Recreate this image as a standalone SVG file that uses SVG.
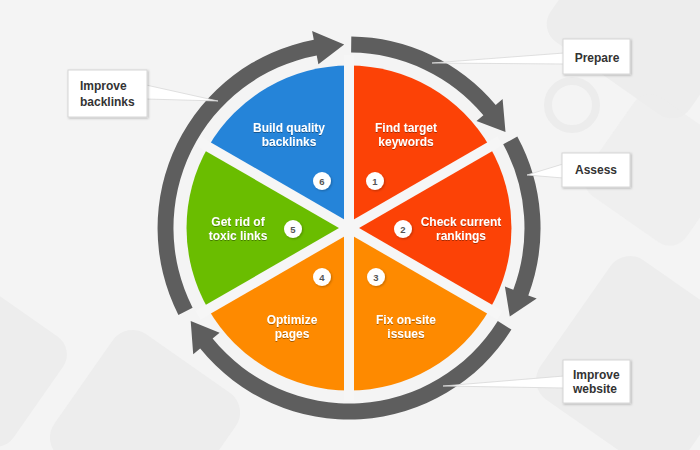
<svg xmlns="http://www.w3.org/2000/svg" width="700" height="450" viewBox="0 0 700 450">
<defs>
<style>
.bgs{fill:#ededed}
.arrow{fill:#5e5e5e}
.gap{stroke:#f6f6f6;stroke-width:10;fill:none}
.lbl{font-family:"Liberation Sans",Arial,sans-serif;font-weight:bold;font-size:12px;fill:#ffffff;text-anchor:middle}
.box{fill:#ffffff;stroke:#d6d6d6;stroke-width:1}
.btxt{font-family:"Liberation Sans",Arial,sans-serif;font-weight:bold;font-size:12px;fill:#333333}
.wedge{fill:#ffffff;stroke:#d8d8d8;stroke-width:0.8}
.num{fill:#ffffff}
.ntxt{font-family:"Liberation Sans",Arial,sans-serif;font-weight:bold;font-size:9.5px;fill:#555555;text-anchor:middle}
</style>
<filter id="ts" x="-10%" y="-20%" width="120%" height="150%">
<feDropShadow dx="0" dy="1" stdDeviation="0.6" flood-color="#000" flood-opacity="0.35"/>
</filter>
<filter id="sh" x="-20%" y="-20%" width="150%" height="150%">
<feDropShadow dx="1" dy="1" stdDeviation="1" flood-color="#000" flood-opacity="0.25"/>
</filter>
</defs>
<rect width="700" height="450" fill="#f4f4f4"/>
<g id="background">
<rect class="bgs" x="560" y="-40" width="170" height="130" rx="22" transform="rotate(35 645 25)"/>
<rect class="bgs" x="600" y="110" width="120" height="120" rx="20" transform="rotate(35 660 170)" opacity="0.7"/>
<circle cx="572" cy="105" r="24" fill="none" stroke="#ececec" stroke-width="8"/>
<rect class="bgs" x="560" y="280" width="170" height="170" rx="24" transform="rotate(35 645 365)"/>
<rect class="bgs" x="-80" y="300" width="130" height="130" rx="22" transform="rotate(35 -15 365)"/>
<rect class="bgs" x="70" y="350" width="150" height="150" rx="24" transform="rotate(35 145 425)"/>
</g>
<g id="pie">
<path id="slice1" d="M349,228 L349,65.5 A162.5,162.5 0 0 1 489.7,146.75 Z" fill="#fc4206"/>
<path id="slice2" d="M349,228 L489.7,146.75 A162.5,162.5 0 0 1 489.7,309.25 Z" fill="#fc4206"/>
<path id="slice3" d="M349,228 L489.7,309.25 A162.5,162.5 0 0 1 349,390.5 Z" fill="#fe8a00"/>
<path id="slice4" d="M349,228 L349,390.5 A162.5,162.5 0 0 1 208.3,309.25 Z" fill="#fe8a00"/>
<path id="slice5" d="M349,228 L208.3,309.25 A162.5,162.5 0 0 1 208.3,146.75 Z" fill="#6abd00"/>
<path id="slice6" d="M349,228 L208.3,146.75 A162.5,162.5 0 0 1 349,65.5 Z" fill="#2584d9"/>
<line class="gap" x1="349" y1="55" x2="349" y2="401"/>
<line class="gap" x1="198" y1="140.8" x2="500" y2="315.2"/>
<line class="gap" x1="198" y1="315.2" x2="500" y2="140.8"/>
</g>
<g id="connectors">
<path id="arrow-prepare" class="arrow" d="M351.3,36.5 A191.5,191.5 0 0 1 495.7,104.9 L502.6,99.1 L505.5,132.1 L476.5,121 L483.4,115.2 A175.5,175.5 0 0 0 351.1,52.5 Z"/>
<path id="arrow-assess" class="arrow" d="M517.3,136.6 A191.5,191.5 0 0 1 528.3,295.4 L536.7,298.5 L509.8,316.4 L504.9,286.6 L513.3,289.7 A175.5,175.5 0 0 0 503.2,144.3 Z"/>
<path id="arrow-website" class="arrow" d="M511.4,329.5 A191.5,191.5 0 0 1 200.2,348.5 L193.2,354.2 L190.7,320.9 L219.6,332.8 L212.6,338.4 A175.5,175.5 0 0 0 497.8,321 Z"/>
<path id="arrow-backlinks" class="arrow" d="M178.4,314.9 A191.5,191.5 0 0 1 313.8,39.8 L312.1,30.9 L344.2,44.6 L318.4,64.3 L316.7,55.5 A175.5,175.5 0 0 0 192.6,307.7 Z"/>
<polygon class="wedge" points="146,85 146,99 218,101"/>
<polygon class="wedge" points="564,53 564,64 432,63"/>
<polygon class="wedge" points="563,164 563,178 527,175"/>
<polygon class="wedge" points="564,376 564,388 443,386"/>
</g>
<g id="label-backlinks">
<rect class="box" x="68" y="70" width="79" height="47" filter="url(#sh)"/>
<text class="btxt" x="80" y="90">Improve</text>
<text class="btxt" x="80" y="106">backlinks</text>
</g>
<g id="label-prepare">
<rect class="box" x="563" y="39" width="67" height="35" filter="url(#sh)"/>
<text class="btxt" x="597" y="62" text-anchor="middle">Prepare</text>
</g>
<g id="label-assess">
<rect class="box" x="562" y="153" width="68" height="34" filter="url(#sh)"/>
<text class="btxt" x="596" y="174" text-anchor="middle">Assess</text>
</g>
<g id="label-website">
<rect class="box" x="563" y="360" width="67" height="43" filter="url(#sh)"/>
<text class="btxt" x="573" y="379">Improve</text>
<text class="btxt" x="573" y="393">website</text>
</g>
<g id="step1">
<text class="lbl" x="406" y="132" filter="url(#ts)">Find target</text>
<text class="lbl" x="406" y="146" filter="url(#ts)">keywords</text>
<circle class="num" cx="375" cy="181" r="9" filter="url(#sh)"/>
<text class="ntxt" x="375" y="184.5">1</text>
</g>
<g id="step2">
<text class="lbl" x="461" y="226" filter="url(#ts)">Check current</text>
<text class="lbl" x="461" y="240" filter="url(#ts)">rankings</text>
<circle class="num" cx="403" cy="229" r="9" filter="url(#sh)"/>
<text class="ntxt" x="403" y="232.5">2</text>
</g>
<g id="step3">
<text class="lbl" x="406" y="324" filter="url(#ts)">Fix on-site</text>
<text class="lbl" x="406" y="338" filter="url(#ts)">issues</text>
<circle class="num" cx="376" cy="277" r="9" filter="url(#sh)"/>
<text class="ntxt" x="376" y="280.5">3</text>
</g>
<g id="step4">
<text class="lbl" x="292" y="324" filter="url(#ts)">Optimize</text>
<text class="lbl" x="292" y="338" filter="url(#ts)">pages</text>
<circle class="num" cx="322" cy="277" r="9" filter="url(#sh)"/>
<text class="ntxt" x="322" y="280.5">4</text>
</g>
<g id="step5">
<text class="lbl" x="238" y="226" filter="url(#ts)">Get rid of</text>
<text class="lbl" x="238" y="240" filter="url(#ts)">toxic links</text>
<circle class="num" cx="293" cy="229" r="9" filter="url(#sh)"/>
<text class="ntxt" x="293" y="232.5">5</text>
</g>
<g id="step6">
<text class="lbl" x="289" y="132" filter="url(#ts)">Build quality</text>
<text class="lbl" x="289" y="146" filter="url(#ts)">backlinks</text>
<circle class="num" cx="322" cy="181" r="9" filter="url(#sh)"/>
<text class="ntxt" x="322" y="184.5">6</text>
</g>
</svg>
